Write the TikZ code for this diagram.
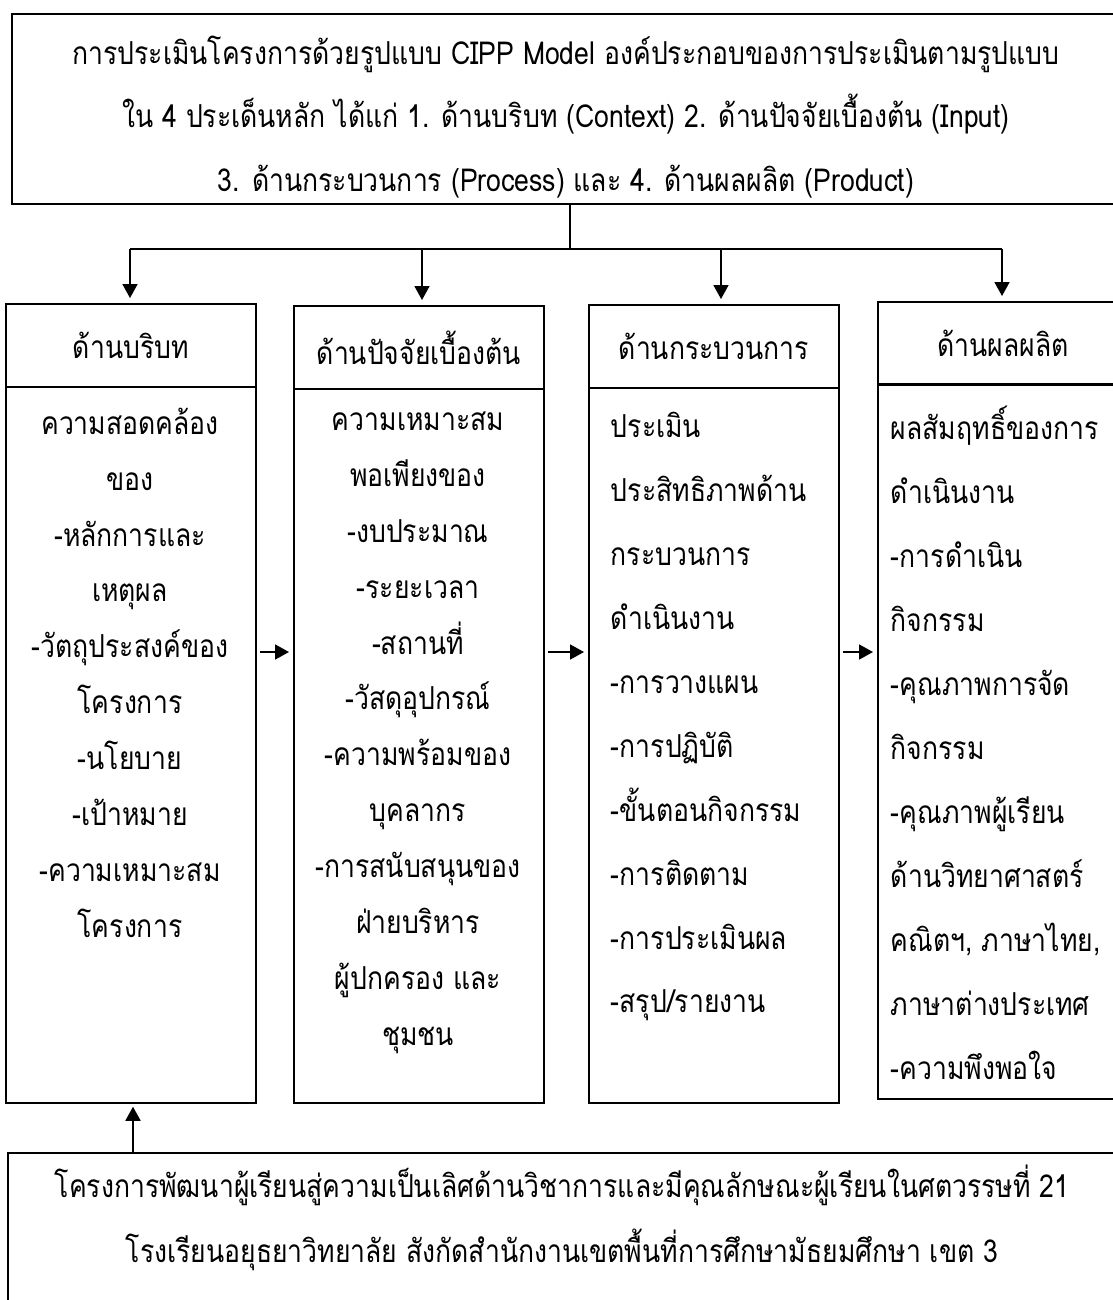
\documentclass[tikz,border=0pt]{standalone}
\usepackage{fontspec}
\newfontfamily\thaifont[Script=Thai,FakeStretch=0.84]{Loma}
\usetikzlibrary{arrows.meta}
\newcommand{\thaitext}[1]{\thaifont\fontsize{9}{#1}\selectfont}
\begin{document}
\begin{tikzpicture}[x=0.1mm,y=-0.1mm,inner sep=0mm,line width=0.5pt,
  >={Triangle[length=1.4mm,width=1.5mm]},
  frame/.style={draw,anchor=north west,minimum width=25mm},
  head/.style={frame,minimum height=8.3mm,font=\thaitext{16}},
  list/.style={anchor=north,align=center,font=\thaitext{15.9}},
  longlist/.style={anchor=north west,align=left,font=\thaitext{18.2}},
  gap/.style={shorten <=0.3mm,shorten >=0.4mm}]

\clip (0,0) rectangle (1113,1300);

\node[frame,minimum width=111.4mm,minimum height=19mm](top) at (11,13) {};
\node[align=center,font=\thaitext{18}](toptext) at (566,117) {การประเมินโครงการด้วยรูปแบบ CIPP Model องค์ประกอบของการประเมินตามรูปแบบ\\
ใน 4 ประเด็นหลัก ได้แก่ 1. ด้านบริบท (Context) 2. ด้านปัจจัยเบื้องต้น (Input)\\
3. ด้านกระบวนการ (Process) และ 4. ด้านผลผลิต (Product)};

\node[head](cth) at (5,303) {ด้านบริบท};
\node[head](inh) at (293,305) {ด้านปัจจัยเบื้องต้น};
\node[head](prh) at (588,304) {ด้านกระบวนการ};
\node[head](pdh) at (877,301) {ด้านผลผลิต};

\node[frame,minimum height=71.6mm](ctb) at (5,386) {};
\node[frame,minimum height=71.4mm](inb) at (293,388) {};
\node[frame,minimum height=71.5mm](prb) at (588,387) {};
\node[frame,minimum height=71.5mm](pdb) at (877,383) {};

\node[list](ct) at (130,407) {ความสอดคล้อง\\ของ\\-หลักการและ\\เหตุผล\\-วัตถุประสงค์ของ\\โครงการ\\-นโยบาย\\-เป้าหมาย\\-ความเหมาะสม\\โครงการ};
\node[list](in) at (418,411) {ความเหมาะสม\\พอเพียงของ\\-งบประมาณ\\-ระยะเวลา\\-สถานที่\\-วัสดุอุปกรณ์\\-ความพร้อมของ\\บุคลากร\\-การสนับสนุนของ\\ฝ่ายบริหาร\\ผู้ปกครอง และ\\ชุมชน};
\node[longlist](pr) at (610,411) {ประเมิน\\ประสิทธิภาพด้าน\\กระบวนการ\\ดำเนินงาน\\-การวางแผน\\-การปฏิบัติ\\-ขั้นตอนกิจกรรม\\-การติดตาม\\-การประเมินผล\\-สรุป/รายงาน};
\node[longlist](pd) at (890,405) {ผลสัมฤทธิ์ของการ\\ดำเนินงาน\\-การดำเนิน\\กิจกรรม\\-คุณภาพการจัด\\กิจกรรม\\-คุณภาพผู้เรียน\\ด้านวิทยาศาสตร์\\คณิตฯ, ภาษาไทย,\\ภาษาต่างประเทศ\\-ความพึงพอใจ};

\node[frame,minimum width=112mm,minimum height=20mm](base) at (7,1152) {};
\node[align=center,font=\thaitext{18.5}](basetext) at (562,1218) {โครงการพัฒนาผู้เรียนสู่ความเป็นเลิศด้านวิชาการและมีคุณลักษณะผู้เรียนในศตวรรษที่ 21\\
โรงเรียนอยุธยาวิทยาลัย สังกัดสำนักงานเขตพื้นที่การศึกษามัธยมศึกษา เขต 3};

\coordinate(fork) at (570,249);
\coordinate(k1) at (130,249);
\coordinate(k2) at (422,249);
\coordinate(k3) at (721,249);
\coordinate(k4) at (1002,249);
\draw (top.south -| fork) -- (fork);
\draw (k1) -- (k4);
\draw[->,shorten >=0.5mm] (k1) -- (k1 |- cth.north);
\draw[->,shorten >=0.5mm] (k2) -- (k2 |- inh.north);
\draw[->,shorten >=0.5mm] (k3) -- (k3 |- prh.north);
\draw[->,shorten >=0.5mm] (k4) -- (k4 |- pdh.north);

\draw[->,gap] (ctb.east |- 0,652) -- (inb.west |- 0,652);
\draw[->,gap] (inb.east |- 0,652) -- (prb.west |- 0,652);
\draw[->,gap] (prb.east |- 0,652) -- (pdb.west |- 0,652);

\draw[->,shorten >=0.3mm] (base.north -| 133,0) -- (ctb.south -| 133,0);

\end{tikzpicture}
\end{document}
